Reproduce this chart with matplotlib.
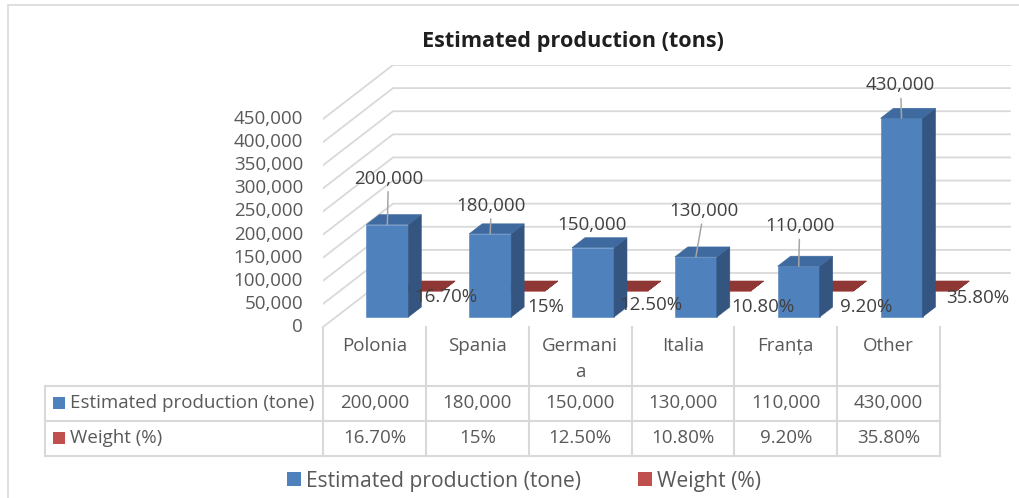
import matplotlib.pyplot as plt
from matplotlib.patches import Polygon, Rectangle, Patch

plt.rcParams['font.family'] = ['Open Sans', 'DejaVu Sans']

# data
categories = ["Polonia", "Spania", "Germania", "Italia", "Franța", "Other"]
production = [200000, 180000, 150000, 130000, 110000, 430000]
weight = [16.7, 15.0, 12.5, 10.8, 9.2, 35.8]
weight_labels = ["16.70%", "15%", "12.50%", "10.80%", "9.20%", "35.80%"]
series_names = ["Estimated production (tone)", "Weight (%)"]
y_ticks = list(range(0, 450001, 50000))

# label placement (pixels from the anchor)
prod_lbl_off = [(1, 46), (1, 28), (-1, 23), (8, 46), (1, 40), (-1, 33)]
weight_lbl_off = [(25, -6), (22, -16), (24, -14), (33, -16), (34, -16), (42, -7)]

BLUE, BLUE_SIDE, BLUE_TOP = '#4f81bd', '#34557f', '#3e6a9f'
RED, RED_TOP = '#c0504d', '#8e3735'
GRID = '#d9d9d9'
TXT = '#595959'
LBL = '#404040'

W, H = 1019, 498
fig = plt.figure(figsize=(W / 100, H / 100), dpi=100)


def fx(px):
    return px / W


def fy(py):
    return 1 - py / H


# outer chart border
fig.patches.append(Rectangle((fx(8), fy(H + 20)), 1.2, fy(5) - fy(H + 20),
                             transform=fig.transFigure, fill=False,
                             edgecolor=GRID, lw=1.2))

# plot area (front plane 323..940 px, back wall shifted by depth)
COL = (940 - 323) / 6
VPX = 450000 / 208
ax = fig.add_axes([fx(323), fy(327), (1012 - 323) / W, (327 - 65) / H])
ax.set_xlim(-0.5, -0.5 + (1012 - 323) / COL)
ax.set_ylim(0, 262 * VPX)
ax.axis('off')

DX = 70 / COL      # horizontal shift for full depth
DY = 54 * VPX      # vertical shift for full depth


def proj(x, v, d):
    return (x + d * DX, v + d * DY)


n = len(categories)
left, right = -0.5, n - 0.5

# side wall and back wall gridlines
for t in y_ticks:
    ax.plot(*zip(proj(left, t, 0), proj(left, t, 1), proj(right, t, 1)),
            color=GRID, lw=1.3, solid_joinstyle='miter', zorder=1)
    ax.text(left - 20 / COL, t, f"{t:,}", ha='right', va='center',
            fontsize=13.5, color=TXT)


def box(xc, half, v0, v1, d0, d1, front, side, top, z):
    x0, x1 = xc - half, xc + half
    faces = [
        ([proj(x0, v0, d0), proj(x1, v0, d0), proj(x1, v1, d0), proj(x0, v1, d0)], front),
        ([proj(x1, v0, d0), proj(x1, v0, d1), proj(x1, v1, d1), proj(x1, v1, d0)], side),
        ([proj(x0, v1, d0), proj(x1, v1, d0), proj(x1, v1, d1), proj(x0, v1, d1)], top),
    ]
    for pts, c in faces:
        ax.add_patch(Polygon(pts, closed=True, facecolor=c, edgecolor=c,
                             lw=0.4, zorder=z))


half = 21 / COL
d_blue = (0.185, 0.37)
d_red = (0.667, 0.852)

# second series (sits behind the first one)
for i, w in enumerate(weight):
    box(i, half, 0, w, d_red[0], d_red[1], RED, RED_TOP, RED_TOP, 2)

for i, v in enumerate(production):
    box(i, half, 0, v, d_blue[0], d_blue[1], BLUE, BLUE_SIDE, BLUE_TOP, 3)

# data labels
for i, v in enumerate(production):
    dx, dy = prod_lbl_off[i]
    arrow = None
    if dy > 25:
        arrow = dict(arrowstyle='-', color='#a6a6a6', lw=1.1,
                     shrinkA=1, shrinkB=0)
    ax.annotate(f"{v:,}", xy=proj(i, v, d_blue[0]), xytext=(dx, dy),
                textcoords='offset pixels', ha='center', va='center',
                fontsize=13.5, color=LBL, arrowprops=arrow, zorder=5)

for i, w in enumerate(weight):
    dx, dy = weight_lbl_off[i]
    ax.annotate(weight_labels[i], xy=proj(i, w, d_red[0]), xytext=(dx, dy),
                textcoords='offset pixels', ha='center', va='center',
                fontsize=13.5, color=LBL, zorder=5)

# data table under the plot
tax = fig.add_axes([fx(323), fy(460), (1012 - 323) / W, (460 - 327) / H])
tax.set_xlim(ax.get_xlim())
tax.set_ylim(460, 327)
tax.axis('off')

tbl_left = left - (323 - 45) / COL
row_lines = [386, 421, 456]
for k in range(n + 1):
    tax.plot([left + k, left + k], [327, 456], color=GRID, lw=1.5, clip_on=False)
tax.plot([tbl_left, tbl_left], [386, 456], color=GRID, lw=1.5, clip_on=False)
for y in row_lines:
    tax.plot([tbl_left, right], [y, y], color=GRID, lw=1.5, clip_on=False)


def wrap(label, width=7):
    if len(label) <= width:
        return label
    return label[:width] + "\n" + label[width:]


for i, c in enumerate(categories):
    tax.text(i, 337, wrap(c), ha='center', va='top', fontsize=13.5,
             color=TXT, linespacing=1.55)
    tax.text(i, 403, f"{production[i]:,}", ha='center', va='center',
             fontsize=13.5, color=TXT)
    tax.text(i, 438, weight_labels[i], ha='center', va='center',
             fontsize=13.5, color=TXT)

key_w = 12 / COL
for y, c, name in zip([403, 438], [BLUE, RED], series_names):
    tax.add_patch(Rectangle((tbl_left + 8 / COL, y - 6), key_w, 12,
                            facecolor=c, edgecolor='none', clip_on=False))
    tax.text(tbl_left + 25 / COL, y, name, ha='left', va='center',
             fontsize=13.5, color=TXT, clip_on=False)

# title
fig.text(fx(573), fy(42), "Estimated production (tons)", ha='center',
         va='center', fontsize=15.6, fontweight='bold', color='#1f1f1f')

# legend
handles = [Patch(facecolor=BLUE), Patch(facecolor=RED)]
fig.legend(handles, series_names, loc='center', bbox_to_anchor=(fx(524), fy(481)),
           ncol=2, frameon=False, fontsize=15.2, handlelength=0.65,
           handleheight=0.65, handletextpad=0.25, columnspacing=2.7,
           labelcolor=TXT)

fig.savefig('out.png', dpi=100)
